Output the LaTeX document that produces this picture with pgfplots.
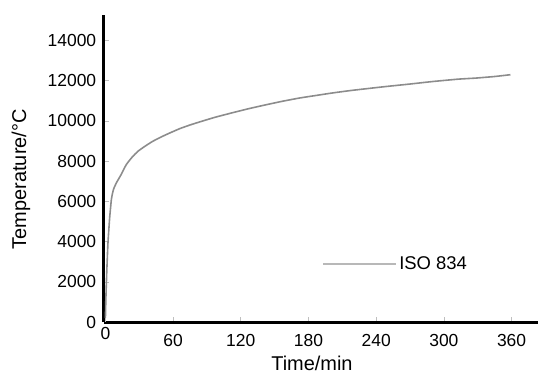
\documentclass[border=0pt]{standalone}
\usepackage{pgfplots}
\pgfplotsset{compat=1.18}
\usepackage{fontspec}
\setmainfont{Liberation Sans}
\definecolor{curvegray}{gray}{0.55}
\definecolor{leggray}{gray}{0.72}
\begin{document}
\begin{tikzpicture}
\begin{axis}[
  name=ax,
  scale only axis,
  width=435pt, height=308pt,
  xmin=-1.5, xmax=383,
  ymin=0, ymax=15270,
  axis x line=bottom, axis y line=left,
  axis line style={line width=3pt, black, -},
  xtick={60,120,...,360},
  extra x ticks={0},
  extra x tick style={tick label style={yshift=7pt}},
  ytick={0,2000,...,14000},
  scaled y ticks=false,
  tick style={gray!50, line width=0.6pt},
  major tick length=5pt,
  tick align=inside,
  /pgf/number format/assume math mode=true,
  /pgf/number format/1000 sep={},
  tick label style={font=\fontsize{17.5}{20}\selectfont},
  xticklabel style={yshift=-9pt},
  yticklabel style={xshift=-4pt},
  xlabel={Time/min},
  ylabel={Temperature/\textdegree C},
  label style={font=\fontsize{20}{24}\selectfont},
  xlabel style={at={(axis description cs:0.48,0)}, anchor=north, yshift=-31pt},
  ylabel style={at={(axis description cs:-0.191,0.465)}, anchor=center},
  legend style={at={(axis description cs:0.497,0.19)}, anchor=west, draw=none, fill=none,
    font=\fontsize{18.5}{21}\selectfont},
  legend cell align=left,
  legend image code/.code={\draw[#1, line width=2pt, leggray] (0pt,0pt) -- (73pt,0pt);},
  clip=false,
]
\addplot[curvegray, line width=1.6pt, smooth, tension=0.3] coordinates {
(0,200) (0.4,1140) (1.2,2500) (2.3,3970) (3.8,5200) (5.3,6100) (6.5,6450) (7.5,6650)
(10,6950) (14,7340) (18.5,7830) (24,8220) (28.8,8490) (35,8740) (42,8990) (50,9220)
(57,9400) (66,9620) (75,9800) (84,9960) (97,10180) (112,10400) (127,10610) (142,10800)
(157,10980) (172,11140) (187,11270) (201,11390) (217,11510) (234,11620) (250,11720)
(269,11830) (290,11960) (313,12080) (328,12130) (345,12210) (359,12300)
};
\addlegendentry{ISO 834}
\end{axis}
\path ([shift={(-104pt,-59pt)}]ax.south west) rectangle ([shift={(0pt,15pt)}]ax.north east);
\end{tikzpicture}
\end{document}
